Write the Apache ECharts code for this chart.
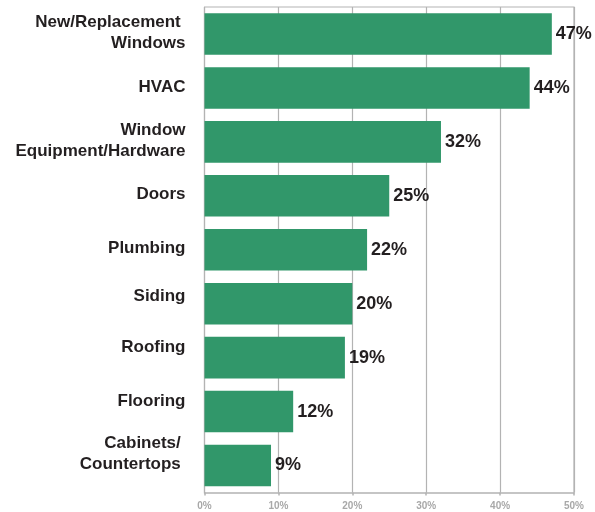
<!DOCTYPE html>
<html>
<head>
<meta charset="utf-8">
<script src="https://cdn.jsdelivr.net/npm/echarts@6/dist/echarts.min.js"></script>
<style>
  html, body { margin: 0; padding: 0; background: #fff; }
  #chart { width: 595px; height: 512px; }
</style>
</head>
<body>
<div id="chart"></div>
<script>
// Categories listed top to bottom
const categories = [
  'New/Replacement \nWindows',
  'HVAC',
  'Window\nEquipment/Hardware',
  'Doors',
  'Plumbing',
  'Siding',
  'Roofing',
  'Flooring',
  'Cabinets/ \nCountertops '
];
const shares = [47, 44, 32, 25, 22, 20, 19, 12, 9];
const axisTicks = [0, 10, 20, 30, 40, 50];

// How far (px) each category label sits above the middle of its bar
const labelLift = [1, 1, 1, 1, 1, 7, 10, 10, 12];

// A blank spacer line under each label pushes the centred block upward
const spacerStyles = {};
labelLift.forEach((lift, i) => {
  spacerStyles['gap' + i] = { fontSize: 1, lineHeight: Math.max(1, 2 * lift) };
});

const chart = echarts.init(document.getElementById('chart'), null, { renderer: 'canvas' });

chart.setOption({
  animation: false,
  grid: {
    left: 204.5, right: 21, top: 7, bottom: 19.5,
    containLabel: false,
    outerBoundsMode: 'none'
  },
  xAxis: {
    type: 'value',
    min: axisTicks[0],
    max: axisTicks[axisTicks.length - 1],
    interval: 10,
    axisLine: { show: true, lineStyle: { color: '#b3b3b3', width: 1.5 } },
    axisTick: { show: true, length: 3, lineStyle: { color: '#b3b3b3', width: 1.5 } },
    splitLine: { show: true, lineStyle: { color: '#b3b3b3', width: 1.2 } },
    axisLabel: {
      formatter: v => v + '%',
      color: '#a8a8a8',
      fontFamily: 'Liberation Sans, Arial, sans-serif',
      fontWeight: 'bold',
      fontSize: 10,
      margin: 9
    }
  },
  yAxis: {
    type: 'category',
    inverse: true,
    data: categories,
    axisLine: { show: true, lineStyle: { color: '#b3b3b3', width: 1.2 } },
    axisTick: { show: false },
    splitLine: { show: false },
    axisLabel: {
      color: '#231f20',
      fontFamily: 'Liberation Sans, Arial, sans-serif',
      fontWeight: 'bold',
      fontSize: 17,
      lineHeight: 21,
      align: 'right',
      verticalAlign: 'middle',
      margin: 19,
      formatter: (name, idx) => name + '\n{gap' + idx + '| }',
      rich: spacerStyles
    }
  },
  series: [{
    type: 'bar',
    data: shares,
    barCategoryGap: '23%',
    itemStyle: { color: '#31976a' },
    label: {
      show: true,
      position: 'right',
      distance: 4,
      formatter: p => p.value + '%',
      color: '#231f20',
      fontFamily: 'Liberation Sans, Arial, sans-serif',
      fontWeight: 'bold',
      fontSize: 18
    }
  }],
  graphic: [{
    // top and right border of the plotting frame
    type: 'polyline',
    shape: { points: [[204.5, 7], [574, 7], [574, 492.5]] },
    style: { stroke: '#b3b3b3', lineWidth: 1.2, fill: null },
    silent: true
  }]
});
</script>
</body>
</html>
